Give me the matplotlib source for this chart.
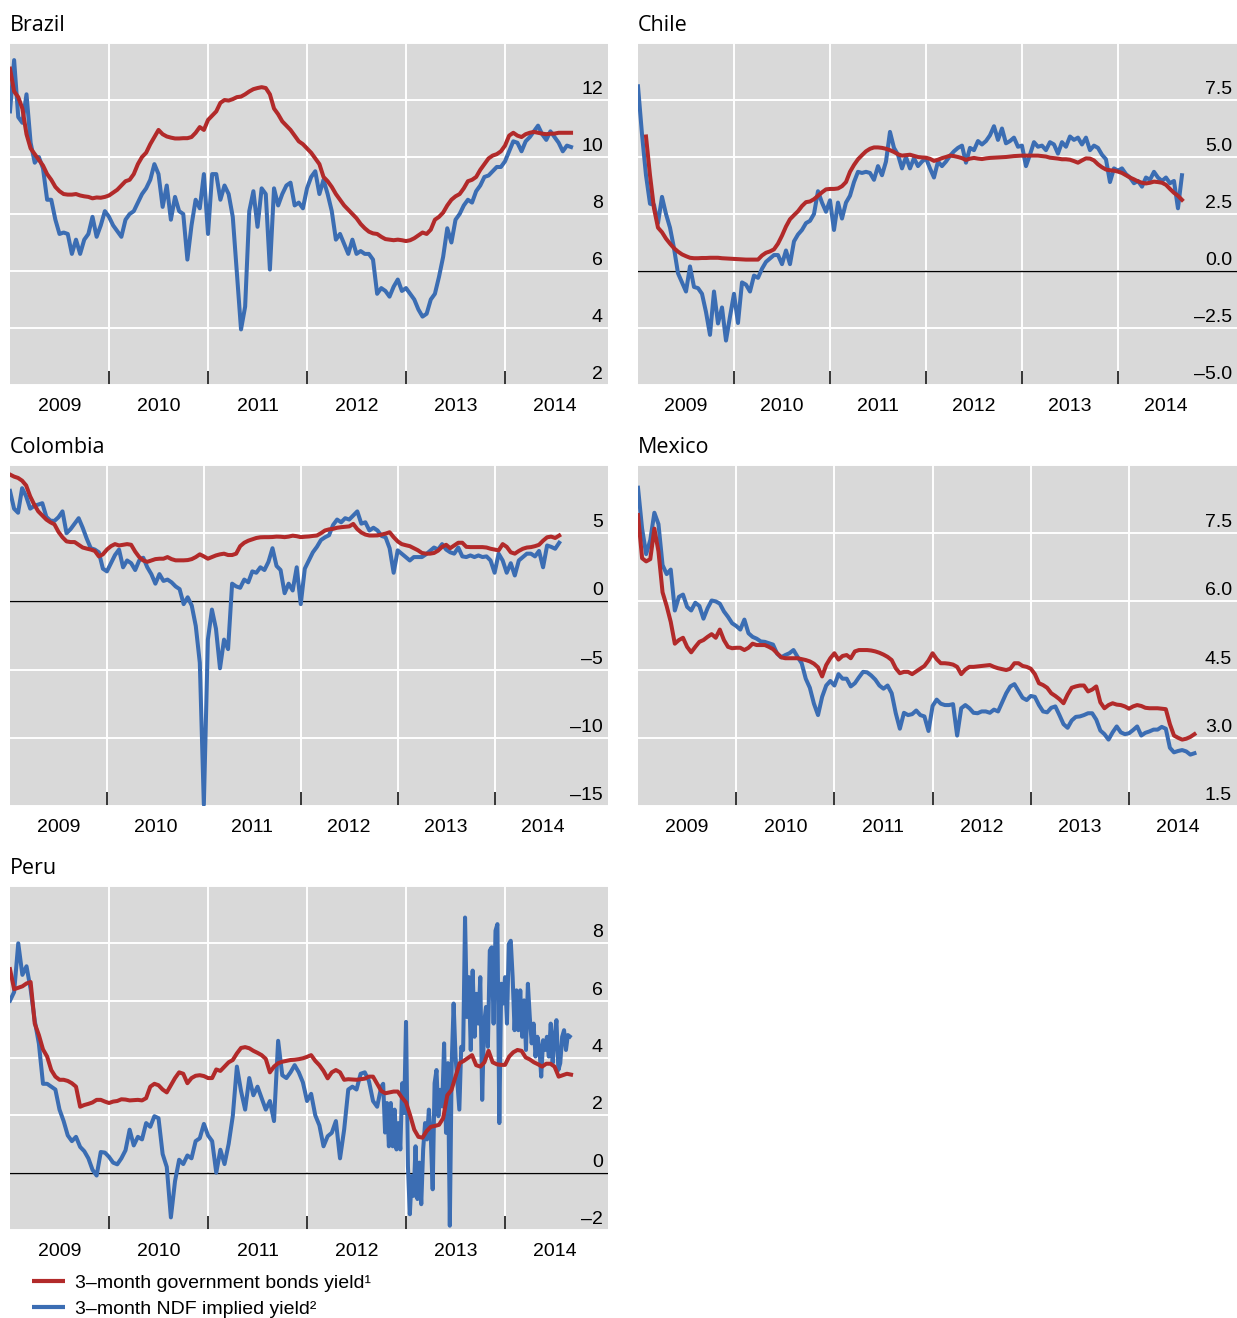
import numpy as np
import matplotlib
matplotlib.use("Agg")
import matplotlib.pyplot as plt
from matplotlib.lines import Line2D
from matplotlib.transforms import blended_transform_factory

# ---------------------------------------------------------------- data
# Semi-monthly observations starting 2009-01-01 (index i -> 2009 + i/24)
YEARS = [2009, 2010, 2011, 2012, 2013, 2014]
SERIES_LABELS = ["3\u2013month government bonds yield\u00b9",
                 "3\u2013month NDF implied yield\u00b2"]

brazil_gov = [
    13.1, 12.3, 12.1, 11.7, 10.8, 10.3, 10.1, 9.9, 9.7, 9.4,
    9.2, 8.95, 8.8, 8.7, 8.68, 8.68, 8.7, 8.65, 8.62, 8.6,
    8.55, 8.58, 8.57, 8.6, 8.65, 8.75, 8.85, 9.0, 9.15, 9.2,
    9.4, 9.75, 10.0, 10.15, 10.45, 10.7, 10.95, 10.8, 10.72, 10.68,
    10.65, 10.65, 10.66, 10.66, 10.7, 10.85, 11.05, 10.95, 11.3, 11.45,
    11.6, 11.9, 12.0, 11.98, 12.03, 12.1, 12.12, 12.2, 12.3, 12.38,
    12.42, 12.45, 12.42, 12.2, 11.7, 11.5, 11.25, 11.1, 10.95, 10.75,
    10.55, 10.45, 10.3, 10.15, 9.95, 9.75, 9.3, 9.15, 8.95, 8.7,
    8.5, 8.3, 8.15, 8.0, 7.85, 7.65, 7.5, 7.38, 7.32, 7.3,
    7.2, 7.12, 7.1, 7.08, 7.1, 7.08, 7.05, 7.08, 7.15, 7.25,
    7.35, 7.3, 7.45, 7.8, 7.9, 8.05, 8.3, 8.5, 8.62, 8.7,
    8.9, 9.15, 9.2, 9.3, 9.55, 9.75, 9.95, 10.05, 10.1, 10.2,
    10.4, 10.75, 10.85, 10.75, 10.7, 10.8, 10.85, 10.88, 10.85, 10.82,
    10.8, 10.82, 10.82, 10.85, 10.85, 10.85, 10.85]
brazil_ndf = [
    11.6, 13.4, 11.4, 11.2, 12.2, 10.5, 9.8, 10.0, 9.6, 8.5,
    8.5, 7.8, 7.3, 7.35, 7.3, 6.6, 7.1, 6.6, 7.1, 7.3,
    7.9, 7.2, 7.6, 8.1, 7.9, 7.6, 7.4, 7.2, 7.8, 8.0,
    8.1, 8.4, 8.7, 8.9, 9.2, 9.75, 9.4, 8.25, 9.0, 7.8,
    8.6, 8.1, 8.0, 6.4, 7.6, 8.5, 8.2, 9.4, 7.3, 9.4,
    9.4, 8.5, 9.0, 8.7, 7.9, 5.9, 3.95, 4.75, 8.1, 8.8,
    7.55, 8.9, 8.7, 6.05, 8.9, 8.3, 8.7, 9.0, 9.1, 8.3,
    8.4, 8.2, 8.9, 9.3, 9.5, 8.7, 9.2, 8.7, 8.1, 7.1,
    7.3, 6.95, 6.6, 7.1, 6.6, 6.7, 6.6, 6.6, 6.4, 5.2,
    5.4, 5.3, 5.1, 5.45, 5.7, 5.3, 5.4, 5.2, 5.0, 4.65,
    4.4, 4.5, 5.0, 5.2, 5.8, 6.5, 7.5, 7.0, 7.8, 8.0,
    8.3, 8.5, 8.4, 8.8, 9.0, 9.3, 9.35, 9.5, 9.65, 9.65,
    9.85, 10.2, 10.55, 10.5, 10.2, 10.55, 10.7, 10.9, 11.1, 10.8,
    10.6, 10.9, 10.7, 10.5, 10.2, 10.4, 10.35]

# Chile government yield starts at index 2 (mid-January 2009)
chile_gov_start = 2
chile_gov = [
    5.9, 4.2, 2.75, 1.9, 1.7, 1.42, 1.2, 1.0, 0.85, 0.73,
    0.65, 0.58, 0.56, 0.56, 0.57, 0.57, 0.58, 0.58, 0.58, 0.56,
    0.55, 0.54, 0.53, 0.52, 0.51, 0.5, 0.5, 0.5, 0.5, 0.68,
    0.8, 0.86, 0.95, 1.2, 1.55, 1.95, 2.27, 2.45, 2.62, 2.85,
    3.02, 3.05, 3.15, 3.3, 3.45, 3.58, 3.6, 3.6, 3.62, 3.72,
    3.9, 4.35, 4.65, 4.9, 5.08, 5.25, 5.36, 5.42, 5.42, 5.4,
    5.36, 5.3, 5.22, 5.12, 5.06, 5.08, 5.1, 5.05, 5.0, 4.98,
    4.97, 4.92, 4.83, 4.88, 4.95, 5.0, 5.06, 5.04, 5.0, 4.95,
    4.87, 4.93, 4.96, 4.93, 4.91, 4.94, 4.96, 4.97, 4.98, 4.99,
    5.0, 5.02, 5.04, 5.05, 5.06, 5.06, 5.06, 5.06, 5.06, 5.04,
    5.02, 4.97, 4.95, 4.93, 4.9, 4.9, 4.88, 4.82, 4.75, 4.85,
    4.94, 4.93, 4.85, 4.68, 4.55, 4.45, 4.42, 4.4, 4.36, 4.3,
    4.2, 4.1, 4.02, 3.93, 3.87, 3.84, 3.87, 3.92, 3.9, 3.87,
    3.78, 3.6, 3.43, 3.3, 3.12]
chile_ndf = [
    8.1, 6.0, 4.2, 2.95, 2.9, 2.1, 3.25, 2.5, 1.9, 1.0,
    -0.1, -0.5, -0.9, 0.2, -0.7, -0.75, -1.0, -1.8, -2.8, -0.9,
    -2.3, -1.6, -3.05, -2.0, -1.0, -2.28, -0.5, -0.6, -0.9, -0.2,
    -0.3, 0.1, 0.4, 0.55, 0.7, 0.7, 0.3, 0.9, 0.3, 1.3,
    1.6, 1.8, 2.1, 2.2, 2.5, 3.5, 3.0, 2.6, 3.1, 1.8,
    3.0, 2.3, 3.0, 3.3, 3.9, 4.35, 4.3, 4.35, 4.3, 4.0,
    4.6, 4.2, 4.8, 6.1, 5.4, 5.1, 4.5, 5.0, 4.5, 4.95,
    4.6, 4.8, 4.95, 4.5, 4.1, 4.8, 4.6, 4.8, 5.05, 5.25,
    5.4, 5.5, 4.75, 5.4, 5.3, 5.7, 5.55, 5.7, 5.95, 6.35,
    5.75, 6.25, 5.6, 5.7, 5.85, 5.45, 5.5, 4.6, 5.1, 5.65,
    5.45, 5.5, 5.3, 5.65, 5.55, 5.15, 5.65, 5.45, 5.9, 5.75,
    5.85, 5.55, 5.85, 5.3, 5.5, 5.4, 5.1, 4.9, 3.9, 4.5,
    4.4, 4.5, 4.25, 4.1, 3.85, 3.95, 3.7, 4.1, 4.0, 4.35,
    4.1, 3.95, 4.1, 3.85, 3.95, 2.75, 4.2]

colombia_gov = [
    9.3, 9.15, 9.05, 8.85, 8.5, 7.7, 7.1, 6.6, 6.3, 6.0,
    5.8, 5.65, 5.1, 4.7, 4.4, 4.35, 4.35, 4.15, 3.95, 3.87,
    3.8, 3.7, 3.3, 3.45, 3.8, 4.05, 4.2, 4.1, 4.15, 4.2,
    4.15, 3.65, 3.25, 3.0, 2.9, 3.0, 3.1, 3.13, 3.13, 3.25,
    3.1, 3.01, 3.01, 3.01, 3.03, 3.1, 3.25, 3.45, 3.3, 3.13,
    3.25, 3.37, 3.45, 3.5, 3.4, 3.4, 3.5, 4.05, 4.3, 4.45,
    4.55, 4.65, 4.7, 4.71, 4.71, 4.72, 4.75, 4.74, 4.71, 4.75,
    4.82, 4.78, 4.71, 4.74, 4.76, 4.8, 4.83, 5.0, 5.2, 5.28,
    5.32, 5.4, 5.44, 5.47, 5.5, 5.68, 5.3, 5.05, 4.9, 4.83,
    4.83, 4.84, 4.9, 4.97, 5.07, 4.71, 4.4, 4.2, 4.12, 4.05,
    3.9, 3.75, 3.55, 3.5, 3.5, 3.55, 3.72, 4.0, 4.15, 3.9,
    4.1, 4.3, 4.3, 4.0, 3.98, 3.98, 3.98, 3.98, 3.95, 3.86,
    3.8, 3.74, 4.2, 4.0, 3.6, 3.5, 3.7, 3.86, 3.95, 3.98,
    4.05, 4.15, 4.45, 4.7, 4.75, 4.65, 4.83]
colombia_ndf = [
    8.1, 6.8, 6.5, 8.3, 7.7, 6.8, 7.0, 7.1, 7.2, 6.2,
    5.92, 5.9, 6.17, 6.6, 5.0, 5.3, 5.7, 6.1, 5.4, 4.6,
    3.9, 3.8, 3.6, 2.4, 2.2, 2.8, 3.4, 3.8, 2.5, 3.0,
    2.8, 2.3, 3.0, 3.2, 2.5, 2.0, 1.3, 2.0, 1.5, 1.6,
    1.4, 1.1, 0.9, -0.2, 0.3, -0.3, -1.8, -4.5, -14.9, -2.8,
    -0.6, -2.0, -4.9, -2.8, -3.5, 1.3, 1.1, 1.0, 1.6, 1.4,
    2.2, 2.1, 2.5, 2.3, 2.9, 3.9, 2.6, 2.3, 0.6, 1.3,
    0.8, 2.5, -0.2, 2.4, 3.0, 3.6, 4.0, 4.5, 4.7, 4.85,
    5.6, 6.0, 5.8, 6.1, 6.0, 6.3, 6.6, 5.7, 5.8, 5.2,
    5.4, 5.2, 4.8, 4.7, 3.9, 2.1, 3.74, 3.5, 3.25, 3.0,
    3.25, 3.25, 3.25, 3.45, 3.7, 3.95, 3.8, 4.2, 3.8, 3.6,
    3.5, 3.95, 3.3, 3.25, 3.37, 3.25, 3.37, 3.25, 3.3, 3.0,
    2.1, 3.5, 3.0, 2.1, 2.8, 1.9, 3.0, 3.25, 3.5, 3.5,
    3.3, 3.7, 2.5, 4.1, 4.0, 3.86, 4.3]

mexico_gov = [
    7.9, 6.95, 6.88, 6.93, 7.6, 7.1, 6.2, 5.9, 5.55, 5.07,
    5.15, 5.2, 5.0, 4.88, 5.0, 5.11, 5.15, 5.22, 5.28, 5.2,
    5.38, 5.15, 5.0, 4.97, 4.98, 4.98, 4.93, 4.98, 5.07, 5.04,
    5.04, 5.04, 5.0, 4.95, 4.86, 4.77, 4.75, 4.75, 4.75, 4.75,
    4.73, 4.71, 4.68, 4.63, 4.55, 4.35, 4.6, 4.75, 4.86, 4.72,
    4.8, 4.82, 4.75, 4.9, 4.93, 4.93, 4.93, 4.92, 4.9, 4.87,
    4.83, 4.78, 4.71, 4.53, 4.42, 4.45, 4.45, 4.4, 4.46, 4.52,
    4.58, 4.7, 4.86, 4.73, 4.64, 4.64, 4.63, 4.61, 4.56, 4.4,
    4.5, 4.56, 4.56, 4.57, 4.58, 4.59, 4.6, 4.56, 4.53, 4.51,
    4.49, 4.52, 4.64, 4.64, 4.58, 4.56, 4.52, 4.4, 4.2, 4.16,
    4.1, 3.98, 3.92, 3.85, 3.76, 3.95, 4.1, 4.13, 4.15, 4.15,
    4.02, 4.06, 4.13, 3.78, 3.65, 3.72, 3.76, 3.73, 3.72, 3.69,
    3.64, 3.69, 3.72, 3.7, 3.66, 3.65, 3.65, 3.65, 3.64, 3.63,
    3.3, 3.05, 3.0, 2.96, 2.98, 3.02, 3.08]
mexico_ndf = [
    8.5, 7.6, 7.04, 7.35, 7.95, 7.7, 6.8, 6.6, 6.7, 5.8,
    6.1, 6.15, 5.88, 5.8, 5.97, 5.9, 5.62, 5.85, 6.02, 6.0,
    5.95, 5.78, 5.66, 5.52, 5.46, 5.38, 5.6, 5.3, 5.22, 5.18,
    5.12, 5.11, 5.08, 5.05, 4.85, 4.77, 4.82, 4.86, 4.93, 4.78,
    4.64, 4.3, 4.1, 3.75, 3.5, 3.9, 4.15, 4.25, 4.15, 4.4,
    4.3, 4.3, 4.13, 4.2, 4.33, 4.45, 4.44, 4.37, 4.28, 4.15,
    4.08, 4.15, 3.98, 3.54, 3.2, 3.55, 3.5, 3.52, 3.6, 3.5,
    3.47, 3.15, 3.7, 3.84, 3.75, 3.72, 3.72, 3.74, 3.05, 3.65,
    3.72, 3.65, 3.55, 3.54, 3.58, 3.58, 3.55, 3.62, 3.58, 3.78,
    3.98, 4.13, 4.18, 4.03, 3.88, 3.83, 3.92, 3.9, 3.72, 3.58,
    3.56, 3.66, 3.69, 3.5, 3.3, 3.22, 3.38, 3.46, 3.47, 3.5,
    3.54, 3.54, 3.4, 3.16, 3.08, 2.96, 3.12, 3.25, 3.12, 3.08,
    3.1, 3.17, 3.25, 3.05, 3.11, 3.14, 3.18, 3.18, 3.24, 3.2,
    2.78, 2.68, 2.71, 2.73, 2.7, 2.63, 2.66]

peru_gov = [
    7.1, 6.4, 6.45, 6.5, 6.6, 6.65, 5.2, 4.8, 4.3, 4.05,
    3.58, 3.35, 3.24, 3.24, 3.2, 3.12, 3.0, 2.3, 2.36, 2.4,
    2.45, 2.54, 2.54, 2.48, 2.43, 2.48, 2.5, 2.56, 2.55, 2.52,
    2.53, 2.54, 2.52, 2.6, 3.0, 3.1, 3.05, 2.9, 2.8, 3.05,
    3.3, 3.5, 3.45, 3.12, 3.3, 3.38, 3.4, 3.37, 3.3, 3.3,
    3.6, 3.55, 3.7, 3.85, 3.93, 4.16, 4.35, 4.38, 4.34, 4.25,
    4.18, 4.1, 3.97, 3.5, 3.7, 3.82, 3.87, 3.9, 3.93, 3.94,
    3.96, 3.99, 4.04, 4.1, 3.9, 3.75, 3.55, 3.29, 3.5, 3.58,
    3.5, 3.24, 3.26, 3.25, 3.24, 3.26, 3.28, 3.35, 3.35, 3.1,
    2.85, 2.77, 2.8, 2.83, 2.83, 2.62, 2.45, 2.0, 1.5, 1.25,
    1.22, 1.45, 1.6, 1.63, 1.67, 1.9, 2.7, 2.88, 3.35, 3.82,
    3.9, 4.0, 4.1, 3.75, 3.7, 3.85, 4.25, 3.85, 3.78, 3.76,
    3.76, 4.05, 4.2, 4.28, 4.25, 4.02, 3.95, 3.85, 3.78, 3.7,
    3.8, 3.8, 3.7, 3.35, 3.4, 3.45, 3.42]
# Peru NDF: semi-monthly to October 2012, then weekly from 2012.75
peru_ndf_semimonthly = [
    6.0, 6.3, 8.0, 6.9, 7.2, 6.4, 5.3, 4.5, 3.1, 3.1,
    3.0, 2.9, 2.2, 1.8, 1.3, 1.1, 1.25, 0.9, 0.75, 0.5,
    0.1, -0.1, 0.72, 0.7, 0.55, 0.35, 0.29, 0.5, 0.78, 1.5,
    0.95, 1.25, 1.16, 1.73, 1.6, 1.97, 1.9, 0.65, 0.2, -1.56,
    -0.3, 0.45, 0.3, 0.6, 0.5, 1.1, 1.2, 1.7, 1.3, 1.1,
    0.0, 0.8, 0.3, 1.0, 1.97, 3.7, 2.85, 2.2, 3.3, 2.7,
    3.0, 2.6, 2.2, 2.5, 1.8, 4.6, 3.4, 3.3, 3.5, 3.75,
    3.5, 3.15, 2.5, 2.75, 2.0, 1.65, 0.92, 1.27, 1.39, 1.8,
    0.5, 1.5, 2.9, 3.0, 2.9, 3.45, 3.5, 3.2, 2.5, 2.3,
    3.0]
peru_ndf_weekly_start = 2012.75
peru_ndf_weekly = [
    3.0, 3.1, 1.4, 2.43, 0.92, 2.43, 0.92, 2.2, 0.81, 1.73,
    0.81, 3.12, 2.08, 5.26, 0.23, -1.45, -0.12, -0.81, 0.92, -0.92,
    0.35, -1.1, 0.81, 1.73, 1.16, 2.2, 1.27, -0.58, 3.12, 3.58,
    1.97, 2.89, 2.31, 4.51, 1.39, 3.82, -1.85, 3.82, 5.9, 4.05,
    3.12, 2.2, 4.39, 4.28, 8.9, 5.43, 6.82, 4.28, 7.05, 4.74,
    6.24, 5.2, 6.82, 2.54, 5.2, 5.78, 4.39, 7.75, 7.86, 5.2,
    8.44, 8.67, 1.73, 6.59, 5.9, 6.82, 5.2, 7.98, 8.09, 6.82,
    4.97, 6.36, 4.97, 6.36, 4.74, 6.01, 4.28, 6.59, 5.43, 4.51,
    5.2, 4.05, 4.74, 4.39, 3.35, 4.62, 4.28, 4.74, 4.05, 5.2,
    3.82, 4.74, 5.32, 3.58, 3.82, 4.74, 4.97, 4.28, 4.8, 4.75]

# y-axis ticks (value positions) and their printed labels
brazil_ticks = [2, 4, 6, 8, 10, 12]
brazil_ticklabels = ["2", "4", "6", "8", "10", "12"]
chile_ticks = [-5.0, -2.5, 0.0, 2.5, 5.0, 7.5]
chile_ticklabels = ["\u20135.0", "\u20132.5", "0.0", "2.5", "5.0", "7.5"]
colombia_ticks = [-15, -10, -5, 0, 5]
colombia_ticklabels = ["\u201315", "\u201310", "\u20135", "0", "5"]
mexico_ticks = [1.5, 3.0, 4.5, 6.0, 7.5]
mexico_ticklabels = ["1.5", "3.0", "4.5", "6.0", "7.5"]
peru_ticks = [-2, 0, 2, 4, 6, 8]
peru_ticklabels = ["\u20132", "0", "2", "4", "6", "8"]


def semi_monthly_x(values, start_index=0):
    return 2009 + (start_index + np.arange(len(values))) / 24.0


def weekly_x(values, start):
    return start + np.arange(len(values)) / 52.0


# ---------------------------------------------------------------- style
W, H, DPI = 1237, 1318, 100
GRAY = "#D9D9D9"
RED = "#B22A2A"
BLUE = "#3B6DB3"
LABEL_FONT = ["Liberation Sans", "DejaVu Sans"]
TITLE_FONT = ["Open Sans", "DejaVu Sans"]
LW = 2.9

fig = plt.figure(figsize=(W / DPI, H / DPI), dpi=DPI)
fig.patch.set_facecolor("white")


def make_panel(box, title, ylim, xmax, ticks, ticklabels, gov, ndf, zero_line):
    left, top, right, bottom = box
    ax = fig.add_axes([left / W, 1 - bottom / H, (right - left) / W, (bottom - top) / H])
    ax.set_facecolor(GRAY)
    for sp in ax.spines.values():
        sp.set_visible(False)
    ax.set_xlim(2009, xmax)
    ax.set_ylim(*ylim)

    # horizontal grid on every tick plus the top limit
    ax.set_yticks(list(ticks) + [ylim[1]])
    ax.tick_params(axis="y", length=0, labelleft=False, labelright=False)
    ax.grid(axis="y", which="major", color="white", lw=1.4)

    # year labels centred within each year, tick marks at year boundaries
    ax.set_xticks([y + 0.5 for y in YEARS])
    ax.set_xticklabels([str(y) for y in YEARS], fontsize=14, family=LABEL_FONT)
    ax.tick_params(axis="x", which="major", length=0, pad=9.5)
    ax.set_xticks(YEARS[1:], minor=True)
    ax.tick_params(axis="x", which="minor", direction="in", length=10,
                   width=1.1, color="black")
    ax.grid(axis="x", which="minor", color="white", lw=1.4)
    ax.set_axisbelow(True)

    if zero_line:
        ax.axhline(0, color="black", lw=1.0, zorder=1.5)

    for xs, ys in ndf:
        ax.plot(xs, ys, color=BLUE, lw=LW, solid_joinstyle="round", zorder=3)
    for xs, ys in gov:
        ax.plot(xs, ys, color=RED, lw=LW, solid_joinstyle="round", zorder=4)

    trans = blended_transform_factory(ax.transAxes, ax.transData)
    for v, txt in zip(ticks, ticklabels):
        ax.annotate(txt, xy=(1, v), xycoords=trans, xytext=(-5, 6),
                    textcoords="offset pixels", ha="right", va="baseline",
                    fontsize=14, family=LABEL_FONT, annotation_clip=False)

    fig.text(left / W, 1 - (top - 12) / H, title, ha="left", va="baseline",
             fontsize=15.5, family=TITLE_FONT)
    return ax


make_panel((10, 43, 608, 385), "Brazil", (2, 14), 2015.04,
           brazil_ticks, brazil_ticklabels,
           [(semi_monthly_x(brazil_gov), brazil_gov)],
           [(semi_monthly_x(brazil_ndf), brazil_ndf)], False)

make_panel((638, 43, 1237, 385), "Chile", (-5, 10), 2015.24,
           chile_ticks, chile_ticklabels,
           [(semi_monthly_x(chile_gov, chile_gov_start), chile_gov)],
           [(semi_monthly_x(chile_ndf), chile_ndf)], True)

make_panel((10, 465, 608, 806), "Colombia", (-15, 10), 2015.17,
           colombia_ticks, colombia_ticklabels,
           [(semi_monthly_x(colombia_gov), colombia_gov)],
           [(semi_monthly_x(colombia_ndf), colombia_ndf)], True)

make_panel((638, 465, 1237, 806), "Mexico", (1.5, 9.0), 2015.1,
           mexico_ticks, mexico_ticklabels,
           [(semi_monthly_x(mexico_gov), mexico_gov)],
           [(semi_monthly_x(mexico_ndf), mexico_ndf)], False)

peru_x = np.concatenate([semi_monthly_x(peru_ndf_semimonthly),
                         weekly_x(peru_ndf_weekly, peru_ndf_weekly_start)[1:]])
peru_y = peru_ndf_semimonthly + peru_ndf_weekly[1:]
make_panel((10, 886, 608, 1230), "Peru", (-2, 10), 2015.04,
           peru_ticks, peru_ticklabels,
           [(semi_monthly_x(peru_gov), peru_gov)],
           [(peru_x, peru_y)], True)

# legend
for yy, color, label in [(1281, RED, SERIES_LABELS[0]), (1307, BLUE, SERIES_LABELS[1])]:
    fig.add_artist(Line2D([32 / W, 65 / W], [1 - yy / H, 1 - yy / H],
                          color=color, lw=3.0, solid_capstyle="butt"))
    fig.text(75 / W, 1 - (yy + 7) / H, label, ha="left", va="baseline",
             fontsize=14, family=LABEL_FONT)

fig.savefig("out.png", dpi=DPI, facecolor="white")
